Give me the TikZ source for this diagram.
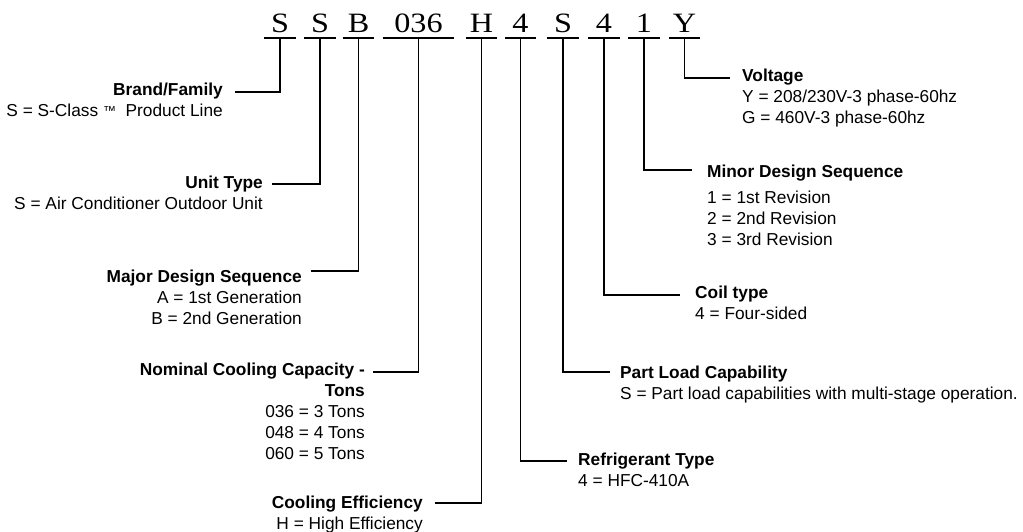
\documentclass[tikz,border=0pt]{standalone}
\usepackage{fontspec}
\setmainfont{Liberation Sans}
\newfontfamily\codefont{Liberation Serif}
\newcommand\lblR[1]{\begin{tabular}[t]{@{}r@{}}#1\end{tabular}}
\newcommand\lblL[1]{\begin{tabular}[t]{@{}l@{}}#1\end{tabular}}
\newcommand\smalltm{\raisebox{1.5pt}{\fontsize{13}{13}\selectfont ™}}
\begin{document}
\begin{tikzpicture}[x=1pt,y=-1pt,
  code/.style={font=\codefont\fontsize{28}{30}\selectfont, inner sep=0pt, anchor=base, minimum width=31pt},
  lbl/.style={font=\fontsize{17.3}{21}\selectfont, inner sep=0pt},
  lline/.style={line width=1.9pt}]
\useasboundingbox[fill=white] (0,0) rectangle (1023,532);
% code characters
\node[code] (c1) at (280,33) {\scalebox{1.15}[1]{S}};
\node[code] (c2) at (320,33) {\scalebox{1.15}[1]{S}};
\node[code] (c3) at (358.5,33) {\scalebox{1.15}[1]{B}};
\node[code, minimum width=71pt] (c4) at (418.5,33) {\scalebox{1.15}[1]{036}};
\node[code] (c5) at (481.5,33) {\scalebox{1.15}[1]{H}};
\node[code] (c6) at (520.5,33) {\scalebox{1.15}[1]{4}};
\node[code] (c7) at (563,33) {\scalebox{1.15}[1]{S}};
\node[code] (c8) at (604,33) {\scalebox{1.15}[1]{4}};
\node[code] (c9) at (644,33) {\scalebox{1.15}[1]{1}};
\node[code] (c10) at (684.5,33) {\scalebox{1.15}[1]{Y}};
\foreach \n in {c1,c2,c3,c4,c5,c6,c7,c8,c9,c10}
  \draw[lline] ([yshift=-5pt]\n.base west) -- ([yshift=-5pt]\n.base east);
% left labels
\node[lbl, anchor=base east] (l1) at (223,96) {\lblR{\textbf{Brand/Family}\\ S = S-Class \smalltm\ \ Product Line}};
\node[lbl, anchor=base east] (l2) at (263,188) {\lblR{\textbf{Unit Type}\\ S = Air Conditioner Outdoor Unit}};
\node[lbl, anchor=base east] (l3) at (302,282) {\lblR{\textbf{Major Design Sequence}\\ A = 1st Generation\\ B = 2nd Generation}};
\node[lbl, anchor=base east] (l4) at (365,375) {\lblR{\textbf{Nominal Cooling Capacity -}\\ \textbf{Tons}\\ 036 = 3 Tons\\ 048 = 4 Tons\\ 060 = 5 Tons}};
\node[lbl, anchor=base east] (l5) at (423,508) {\lblR{\textbf{Cooling Efficiency}\\ H = High Efficiency}};
% right labels
\node[lbl, anchor=base west] (l6) at (578,465) {\lblL{\textbf{Refrigerant Type}\\ 4 = HFC-410A}};
\node[lbl, anchor=base west] (l7) at (620,378) {\lblL{\textbf{Part Load Capability}\\ S = Part load capabilities with multi-stage operation.}};
\node[lbl, anchor=base west] (l8) at (695,298) {\lblL{\textbf{Coil type}\\ 4 = Four-sided}};
\node[lbl, anchor=base west] (l9) at (707,178) {\lblL{\textbf{Minor Design Sequence}\\[5pt] 1 = 1st Revision\\ 2 = 2nd Revision\\ 3 = 3rd Revision}};
\node[lbl, anchor=base west] (l10) at (742,82) {\lblL{\textbf{Voltage}\\ Y = 208/230V-3 phase-60hz\\ G = 460V-3 phase-60hz}};
% connectors
\draw[lline] ([yshift=-5pt]c1.base) |- ([xshift=12pt,yshift=4pt]l1.base east);
\draw[lline] ([yshift=-5pt]c2.base) |- ([xshift=9pt,yshift=4pt]l2.base east);
\draw[lline] ([yshift=-5pt]c3.base) |- ([xshift=9pt,yshift=11pt]l3.base east);
\draw[lline] ([yshift=-5pt]c4.base) |- ([xshift=8pt,yshift=3pt]l4.base east);
\draw[lline] ([yshift=-5pt]c5.base) |- ([xshift=12pt,yshift=5pt]l5.base east);
\draw[lline] ([yshift=-5pt]c6.base) |- ([xshift=-11pt,yshift=4pt]l6.base west);
\draw[lline] ([yshift=-5pt]c7.base) |- ([xshift=-10pt,yshift=6pt]l7.base west);
\draw[lline] ([yshift=-5pt]c8.base) |- ([xshift=-15pt,yshift=3pt]l8.base west);
\draw[lline] ([yshift=-5pt]c9.base) |- ([xshift=-15pt,yshift=8pt]l9.base west);
\draw[lline] ([yshift=-5pt]c10.base) |- ([xshift=-12pt,yshift=4pt]l10.base west);
\end{tikzpicture}
\end{document}
